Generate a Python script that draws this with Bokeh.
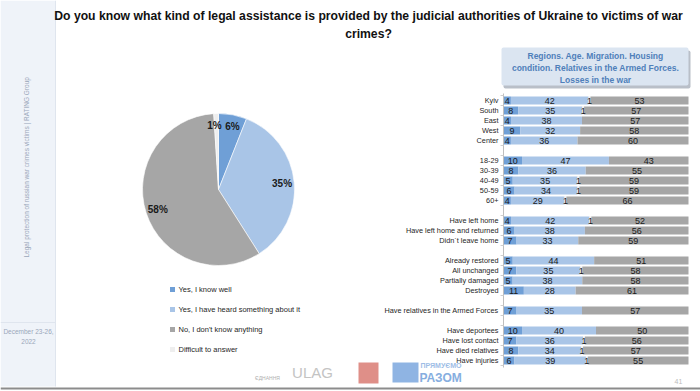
import math
from bokeh.plotting import figure
from bokeh.models import Range1d, ColumnDataSource, BoxAnnotation
from bokeh.core.properties import value
from bokeh.embed import file_html
from bokeh.resources import INLINE

# ---------------- data ----------------
title_lines = [
    "Do you know what kind of legal assistance is provided by the judicial authorities of Ukraine to victims of war",
    "crimes?",
]
answers = ["Yes, I know well", "Yes, I have heard something about it",
           "No, I don't know anything", "Difficult to answer"]
pie_values = [6, 35, 58, 1]
pie_labels = ["6%", "35%", "58%", "1%"]

header_lines = ["Regions. Age. Migration. Housing",
                "condition. Relatives in the Armed Forces.",
                "Losses in the war"]

groups = [
    ["Kyiv", "South", "East", "West", "Center"],
    ["18-29", "30-39", "40-49", "50-59", "60+"],
    ["Have left home", "Have left home and returned", "Didn`t leave home"],
    ["Already restored", "All unchanged", "Partially damaged", "Destroyed"],
    ["Have relatives in the Armed Forces"],
    ["Have deportees", "Have lost contact", "Have died relatives", "Have injuries"],
]
know_well = [4, 8, 4, 9, 4, 10, 8, 5, 6, 4, 4, 6, 7, 5, 7, 5, 11, 7, 10, 7, 8, 6]
heard     = [42, 35, 38, 32, 36, 47, 36, 35, 34, 29, 42, 38, 33, 44, 35, 38, 28, 35, 40, 36, 34, 39]
difficult = [1, 1, 0, 0, 0, 0, 0, 1, 1, 1, 1, 0, 0, 0, 1, 0, 0, 0, 0, 1, 1, 1]
dont_know = [53, 57, 57, 58, 60, 43, 55, 59, 59, 66, 52, 56, 59, 51, 58, 58, 61, 57, 50, 56, 57, 55]

sidebar_text = "Legal protection of russian war crimes victims  |  RATING Group"
date_lines = ["December 23-26,", "2022"]
page_number = "41"

# ---------------- styles ----------------
C_WELL, C_HEARD, C_NO, C_DIFF = "#6f9fd6", "#a9c5e7", "#a6a6a6", "#eeeeee"
pie_colors = [C_WELL, C_HEARD, C_NO, C_DIFF]
SANS = value("Liberation Sans")

W, H = 700, 391


def px(x):  # reference x -> canvas x
    return x


def py(y):  # reference y -> canvas y (upwards)
    return H - y


# bar area: 0..100 -> canvas px 503..688 ; slot s at ref y 100+10*s
bx0, bx1 = 503.0, 688.0
ppu = (bx1 - bx0) / 100.0
p = figure(width=W, height=H, output_backend="svg", toolbar_location=None,
           x_range=Range1d(0, W), y_range=Range1d(0, H),
           x_axis_location=None, y_axis_location=None, min_border=0,
           background_fill_color="white", border_fill_color="white")
p.outline_line_color = None
p.grid.visible = False
p.extra_x_ranges = {"bx": Range1d(-bx0 / ppu, 100 + (W - bx1) / ppu)}
p.extra_y_ranges = {"by": Range1d((py(100)) / 10.0, (py(100) - H) / 10.0)}


def box(l, r, t, b, color, rad=2):
    p.add_layout(BoxAnnotation(left=l, right=r, top=t, bottom=b, fill_color=color, fill_alpha=1,
                               line_color=None, level="underlay", border_radius=rad))


# ---------------- sidebar ----------------
box(0, px(55), H, py(386), "#eff3f9", 0)
p.segment(x0=[px(55)], y0=[py(386)], x1=[px(55)], y1=[H], line_color="#dfe5ee", line_width=1)
p.segment(x0=[0], y0=[py(322)], x1=[px(55)], y1=[py(322)], line_color="#dfe5ee", line_width=1)
p.text(x=[px(26)], y=[py(165)], text=[sidebar_text], angle=math.pi / 2,
       text_font=SANS, text_font_size="6.5px", text_color="#9aa7ba",
       text_align="center", text_baseline="middle")
p.text(x=[px(28)] * 2, y=[py(331), py(341)], text=date_lines,
       text_font=SANS, text_font_size="6.5px", text_color="#9aa7ba",
       text_align="center", text_baseline="middle")
# bottom rule of the slide
p.segment(x0=[0], y0=[py(388)], x1=[W], y1=[py(388)], line_color="#8c8c8c", line_width=2)

# ---------------- title ----------------
p.text(x=[px(368)] * 2, y=[py(15), py(33)], text=title_lines,
       text_font=SANS, text_font_size="12.2px", text_font_style="bold",
       text_color="#111111", text_align="center", text_baseline="middle")

# ---------------- pie ----------------
cx, cy, r = px(218), py(189), 76
cum = [0]
for v in pie_values:
    cum.append(cum[-1] + v)
tot = cum[-1]
starts = [math.pi / 2 - 2 * math.pi * cum[i] / tot for i in range(len(pie_values))]
ends = [math.pi / 2 - 2 * math.pi * cum[i + 1] / tot for i in range(len(pie_values))]
p.wedge(x=cx, y=cy, radius=r, start_angle=starts, end_angle=ends, direction="clock",
        fill_color=pie_colors, line_color="white", line_width=0.6)
lx, ly = [], []
for i in range(len(pie_values)):
    mid = (cum[i] + cum[i + 1]) / 2 / tot * 2 * math.pi
    d = 0.84 * r
    lx.append(cx + d * math.sin(mid))
    ly.append(cy + d * math.cos(mid))
# small slices near the top: keep labels side by side
lx[0] += 2
lx[3] -= 2
p.text(x=lx, y=ly, text=pie_labels, text_font=SANS, text_font_size="10px",
       text_font_style="bold", text_color="#1a1a1a", text_align="center", text_baseline="middle")

# ---------------- legend ----------------
leg_y = [py(289 + 20 * i) for i in range(len(answers))]
p.rect(x=[px(172)] * len(answers), y=leg_y, width=5, height=5, fill_color=pie_colors, line_color=None)
p.text(x=[px(178)] * len(answers), y=leg_y, text=answers, text_font=SANS, text_font_size="7.5px",
       text_color="#262626", text_align="left", text_baseline="middle")

# ---------------- header box ----------------
box(px(503), px(690), py(50), py(88), "#b9bfc8")
box(px(501), px(688), py(47), py(85), "#dbe5f1")
p.text(x=[px(595)] * 3, y=[py(55), py(67), py(79)], text=header_lines,
       text_font=SANS, text_font_size="8.5px", text_font_style="bold",
       text_color="#4f7fba", text_align="center", text_baseline="middle")

# ---------------- stacked bars ----------------
names, slots = [], []
s = 0
for g in groups:
    for name in g:
        names.append(name)
        slots.append(s)
        s += 1
    s += 1
last_slot = slots[-1]

segs = [know_well, heard, difficult, dont_know]
seg_colors = [C_WELL, C_HEARD, C_DIFF, C_NO]
left = [0.0] * len(names)
lab_x, lab_y, lab_t = [], [], []
for vals, col in zip(segs, seg_colors):
    widths = []
    for i in range(len(names)):
        total = know_well[i] + heard[i] + difficult[i] + dont_know[i]
        widths.append(vals[i] * 100.0 / total)
    rights = [l + w for l, w in zip(left, widths)]
    src = ColumnDataSource(dict(y=slots, left=left, right=rights))
    p.hbar(y="y", left="left", right="right", height=0.8, fill_color=col, line_color=None,
           source=src, x_range_name="bx", y_range_name="by")
    for i in range(len(names)):
        if vals[i] > 0:
            lab_x.append((left[i] + rights[i]) / 2)
            lab_y.append(slots[i])
            lab_t.append(str(vals[i]))
    left = rights

p.text(x=lab_x, y=lab_y, text=lab_t, text_font=SANS, text_font_size="9px",
       text_color="#1a1a1a", text_align="center", text_baseline="middle",
       x_range_name="bx", y_range_name="by")

# axis line + ticks
p.segment(x0=[0], y0=[-0.7], x1=[0], y1=[last_slot + 0.7], line_color="#bfbfbf", line_width=1,
          x_range_name="bx", y_range_name="by")
ticks = [t - 0.5 for t in range(0, last_slot + 2)]
p.segment(x0=[-1.6] * len(ticks), y0=ticks, x1=[0] * len(ticks), y1=ticks,
          line_color="#cfcfcf", line_width=1, x_range_name="bx", y_range_name="by")

p.text(x=[0] * len(names), y=slots, text=names, x_offset=-5, text_font=SANS,
       text_font_size="7.3px", text_color="#262626", text_align="right", text_baseline="middle",
       x_range_name="bx", y_range_name="by")

# ---------------- footer ----------------
p.text(x=[px(267)], y=[py(377)], text=["ЄДНАННЯ"], text_font=SANS, text_font_size="5px",
       text_color="#b0b0b0", text_align="center", text_baseline="middle")
p.text(x=[px(312)], y=[py(372)], text=["ULAG"], text_font=SANS, text_font_size="15px",
       text_color="#c4c4c4", text_align="center", text_baseline="middle")
box(px(358), px(378), py(362), py(383), "#df8f88", 0)
box(px(392), px(418), py(362), py(382), "#8fb4e3", 0)
p.text(x=[px(420)], y=[py(365)], text=["ПРЯМУЄМО"], text_font=SANS, text_font_size="7px",
       text_font_style="bold", text_color="#9dbde6", text_align="left", text_baseline="middle")
p.text(x=[px(419)], y=[py(377)], text=["РАЗОМ"], text_font=SANS, text_font_size="12px",
       text_font_style="bold", text_color="#86aee0", text_align="left", text_baseline="middle")
p.text(x=[px(678)], y=[py(381)], text=[page_number], text_font=SANS, text_font_size="7px",
       text_color="#bdbdbd", text_align="center", text_baseline="middle")

open("out.html", "w").write(file_html(p, INLINE))
